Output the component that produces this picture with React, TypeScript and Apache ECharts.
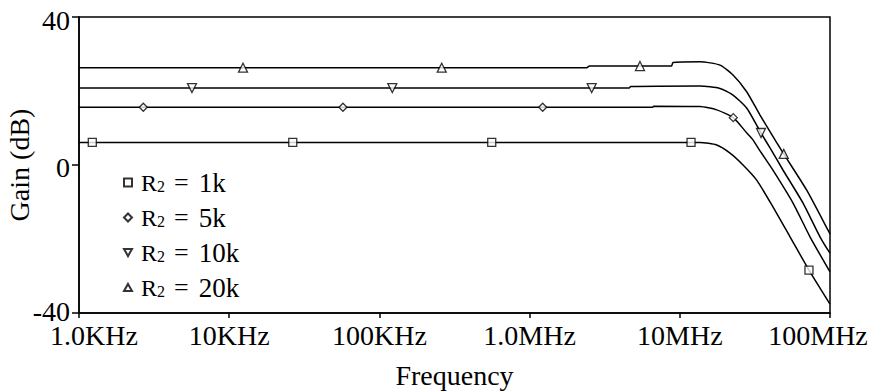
import { useEffect, useRef } from 'react';
import * as echarts from 'echarts';

const FONT = "'Liberation Serif', 'Times New Roman', serif";

const tickLabels = ['1.0KHz', '10KHz', '100KHz', '1.0MHz', '10MHz', '100MHz'];
const seriesNames = ['R2 = 1k', 'R2 = 5k', 'R2 = 10k', 'R2 = 20k'];

// curves (frequency in Hz, gain in dB)
const freq1k = [1e3, 11.88e6, 13.63e6, 17.62e6, 21.6e6, 26.36e6, 32.5e6, 41.69e6, 54.17e6, 72.44e6, 1e8];
const gain1k = [6.1, 6.1, 6.1, 5.4, 3.2, 0, -4.1, -11.3, -19.4, -28.4, -37.6];

const freq5k = [1e3, 6.6e6, 6.7e6, 13.63e6, 17.62e6, 22.7e6, 27.87e6, 30.69e6, 34.2e6, 41.69e6, 56.74e6, 73.6e6, 1e8];
const gain5k = [15.6, 15.6, 15.9, 15.8, 14.9, 12.8, 8.7, 6.8, 3.8, -1.4, -10.3, -19.4, -28.9];

const freq10k = [1e3, 4.6e6, 4.7e6, 13.63e6, 18.53e6, 22.61e6, 27.87e6, 34.73e6, 39.87e6, 48.63e6, 66.15e6, 85.8e6, 1e8];
const gain10k = [20.8, 20.8, 21.2, 21.35, 20.7, 18.9, 15.4, 8.65, 4.6, -1.35, -10.3, -19.4, -23.8];

const freq20k = [1e3, 2.4e6, 2.5e6, 8.8e6, 9.0e6, 13.63e6, 18.53e6, 22.61e6, 27.87e6, 34.2e6, 39.87e6, 49.18e6, 69.98e6, 97.0e6, 1e8];
const gain20k = [26.3, 26.3, 26.75, 26.75, 27.7, 27.9, 27.0, 24.3, 19.8, 13.5, 9.0, 3.0, -6.8, -17.6, -18.65];

// markers
const mark1kF = [1.226e3, 26.5e3, 559.6e3, 11.88e6, 72.44e6];
const mark1kG = [6.1, 6.1, 6.1, 6.1, -28.4];
const mark5kF = [2.68e3, 57.2e3, 1.222e6, 22.7e6];
const mark5kG = [15.6, 15.6, 15.6, 12.8];
const mark10kF = [5.65e3, 121.9e3, 2.59e6, 34.73e6];
const mark10kG = [20.8, 20.8, 20.8, 8.65];
const mark20kF = [12.36e3, 260e3, 5.43e6, 49.18e6];
const mark20kG = [26.3, 26.3, 26.75, 3.0];

const curves = [
  [freq1k, gain1k],
  [freq5k, gain5k],
  [freq10k, gain10k],
  [freq20k, gain20k],
];
const marks = [
  [mark1kF, mark1kG],
  [mark5kF, mark5kG],
  [mark10kF, mark10kG],
  [mark20kF, mark20kG],
];
const symbols = ['rect', 'diamond', 'path://M0,0L10,0L5,9Z', 'path://M5,0L10,9L0,9Z'];
const symbolSizes = [8, 8, 9, 9];

const zip = (a: number[], b: number[]) => a.map((v, i) => [v, b[i]]);

export default function App() {
  const ref = useRef<HTMLDivElement>(null);
  useEffect(() => {
    if (!ref.current) return;
    const chart = echarts.init(ref.current, null, { renderer: 'svg' });
    const lineSeries = curves.map(([f, g], i) => ({
      name: seriesNames[i] + ' curve',
      type: 'line',
      data: zip(f, g),
      showSymbol: false,
      smooth: 0.2,
      lineStyle: { color: '#000', width: 1.5 },
      z: 2,
    }));
    const markSeries = marks.map(([f, g], i) => ({
      name: seriesNames[i],
      type: 'scatter',
      data: zip(f, g),
      symbol: symbols[i],
      symbolSize: symbolSizes[i],
      itemStyle: { color: '#fff', borderColor: '#000', borderWidth: 1.3 },
      z: 3,
    }));
    const lbl = { fontFamily: FONT, fontSize: 28, color: '#000' };
    chart.setOption({
      animation: false,
      backgroundColor: '#fff',
      grid: {
        left: 79,
        right: 46,
        top: 17,
        bottom: 79,
        containLabel: false,
        outerBoundsMode: 'none',
        show: true,
        borderColor: '#000',
        borderWidth: 1.5,
      },
      legend: {
        orient: 'vertical',
        left: 123,
        top: 169,
        padding: 0,
        itemWidth: 8,
        itemHeight: 8,
        itemGap: 8,
        selectedMode: false,
        data: seriesNames,
        formatter: (name: string) => `{r|R}{s|2}{e|=}{n|${name.split('= ')[1]}}`,
        textStyle: {
          rich: {
            r: { fontFamily: FONT, fontSize: 24, color: '#000', lineHeight: 24, padding: [0, 0, 0, 4] },
            s: { fontFamily: FONT, fontSize: 16, color: '#000', lineHeight: 14, verticalAlign: 'bottom' },
            e: { fontFamily: FONT, fontSize: 26, color: '#000', lineHeight: 24, padding: [0, 10, 0, 9] },
            n: { fontFamily: FONT, fontSize: 27, color: '#000', lineHeight: 24 },
          },
        },
      },
      xAxis: {
        type: 'log',
        logBase: 10,
        min: 1e3,
        max: 1e8,
        name: 'Frequency',
        nameLocation: 'middle',
        nameGap: 48,
        nameMoveOverlap: false,
        nameTextStyle: lbl,
        axisLine: { onZero: false, lineStyle: { color: '#000', width: 1.5 } },
        axisTick: { show: true, length: 5, lineStyle: { color: '#000', width: 1.5 } },
        minorTick: { show: false },
        splitLine: { show: false },
        axisLabel: {
          ...lbl,
          lineHeight: 22,
          margin: 11,
          formatter: (v: number) => {
            const i = Math.round(Math.log10(v)) - 3;
            const t = tickLabels[i] ?? '';
            if (i === 0) return `{first|${t}}`;
            if (i === tickLabels.length - 1) return `{last|${t}}`;
            return t;
          },
          rich: {
            first: { ...lbl, lineHeight: 22, padding: [0, 0, 0, 30] },
            last: { ...lbl, lineHeight: 22, padding: [0, 24, 0, 0] },
          },
        },
      },
      yAxis: {
        type: 'value',
        min: -40,
        max: 40,
        interval: 40,
        name: 'Gain (dB)',
        nameLocation: 'middle',
        nameGap: 46,
        nameMoveOverlap: false,
        nameTextStyle: lbl,
        axisLine: { show: true, onZero: false, lineStyle: { color: '#000', width: 1.5 } },
        axisTick: { show: true, length: 7, lineStyle: { color: '#000', width: 1.5 } },
        splitLine: { show: false },
        axisLabel: {
          ...lbl,
          lineHeight: 18,
          margin: 9,
          formatter: (v: number) => (v > 0 ? `{top|${v}}` : v < 0 ? `{bot|${v}}` : `{mid|${v}}`),
          rich: {
            top: { ...lbl, lineHeight: 18, padding: [6, 0, 0, 0] },
            mid: { ...lbl, lineHeight: 18, padding: [4, 0, 0, 0] },
            bot: { ...lbl, lineHeight: 18, padding: [0, 0, 4, 0] },
          },
        },
      },
      series: [...lineSeries, ...markSeries],
    });
    return () => chart.dispose();
  }, []);
  return (
    <div
      ref={ref}
      style={{ position: 'fixed', left: 0, top: 0, width: 876, height: 392 }}
    />
  );
}
